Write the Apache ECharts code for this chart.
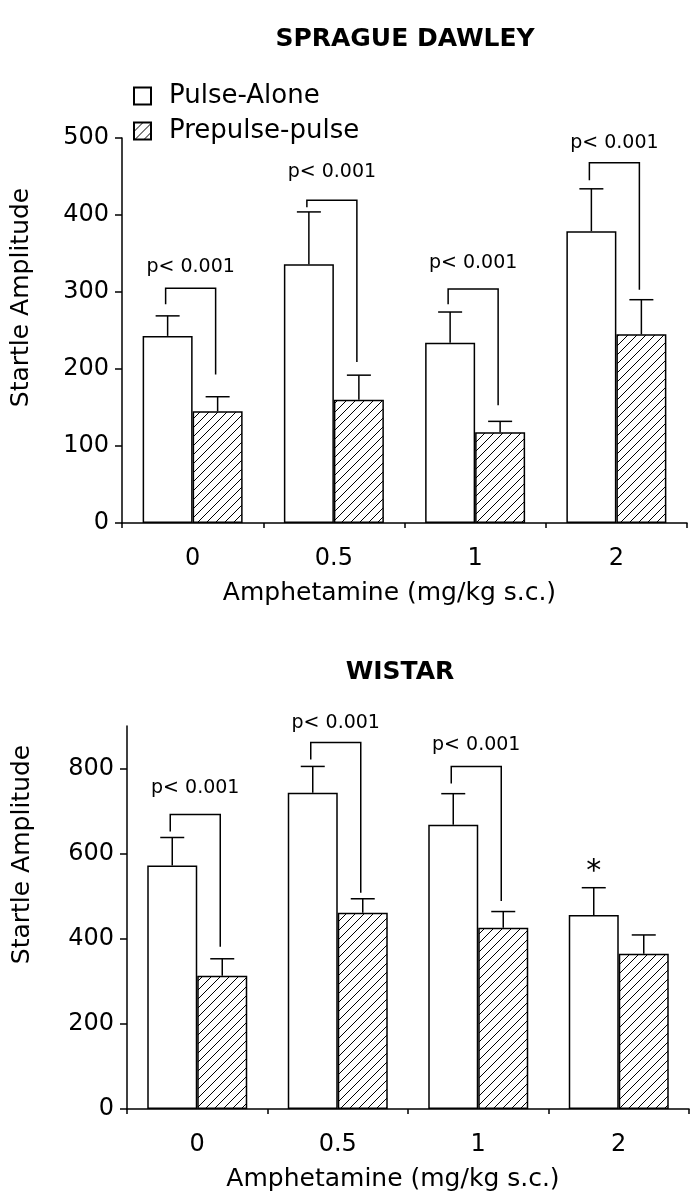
<!DOCTYPE html>
<html>
<head>
<meta charset="utf-8">
<script src="https://cdn.jsdelivr.net/npm/echarts@6/dist/echarts.min.js"></script>
<style>
  html, body { margin: 0; padding: 0; background: #fff; }
  #chart { width: 697px; height: 1199px; }
</style>
</head>
<body>
<div id="chart"></div>
<script>
// doses on the x axis
const doses = ['0', '0.5', '1', '2'];

// Sprague Dawley: means and SEM
const sdPulse = [243, 336, 234, 379];
const sdPulseSem = [26, 68, 40, 55];
const sdPrepulse = [145, 160, 118, 245];
const sdPrepulseSem = [19, 32, 14, 45];

// Wistar: means and SEM
const wiPulse = [572, 743, 668, 456];
const wiPulseSem = [66, 62, 73, 64];
const wiPrepulse = [313, 461, 426, 365];
const wiPrepulseSem = [40, 33, 38, 44];

// significance brackets (left leg end, top, right leg end, label height)
const sdBracketLeft = [284, 410, 284, 445];
const sdBracketTop = [305, 419, 304, 468];
const sdBracketRight = [193, 209, 153, 303];
const sdLabelAt = [332, 456, 338, 494];

const wiBracketLeft = [652, 821, 765];
const wiBracketTop = [692, 861, 805];
const wiBracketRight = [381, 508, 489];
const wiLabelAt = [755, 908, 856];

const wiStarAt = [null, null, null, 557];

const pLabel = 'p< 0.001';
const FONT = 'DejaVu Sans';
const BAR_W = 50;

// hatch pattern for prepulse bars
function makeHatch() {
    const c = document.createElement('canvas');
    c.width = 9;
    c.height = 9;
    const ctx = c.getContext('2d');
    ctx.fillStyle = '#fff';
    ctx.fillRect(0, 0, 9, 9);
    ctx.strokeStyle = '#000';
    ctx.lineWidth = 1;
    ctx.beginPath();
    ctx.moveTo(-1, 10); ctx.lineTo(10, -1);
    ctx.moveTo(-5, 5); ctx.lineTo(5, -5);
    ctx.moveTo(4, 14); ctx.lineTo(14, 4);
    ctx.stroke();
    return c;
}
const hatch = { image: makeHatch(), repeat: 'repeat' };

const myChart = echarts.init(document.getElementById('chart'), null, { renderer: 'canvas' });

function errorBar(offset) {
    return function (params, api) {
        const i = api.value(0);
        const lo = api.coord([i, api.value(1)]);
        const hi = api.coord([i, api.value(2)]);
        const x = lo[0] + offset;
        const st = { stroke: '#000', lineWidth: 1.5 };
        return {
            type: 'group',
            children: [
                { type: 'line', shape: { x1: x, y1: lo[1], x2: x, y2: hi[1] }, style: st },
                { type: 'line', shape: { x1: x - 12, y1: hi[1], x2: x + 12, y2: hi[1] }, style: st }
            ]
        };
    };
}

function bracket(params, api) {
    const i = api.value(0);
    const pl = api.coord([i, api.value(1)]);
    const pt = api.coord([i, api.value(2)]);
    const pr = api.coord([i, api.value(3)]);
    const pc = api.coord([i, api.value(4)]);
    const xl = pl[0] - BAR_W / 2 - 2;
    const xr = pl[0] + BAR_W / 2 - 2;
    return {
        type: 'group',
        children: [
            {
                type: 'polyline',
                shape: { points: [[xl, pl[1]], [xl, pt[1]], [xr, pt[1]], [xr, pr[1]]] },
                style: { stroke: '#000', lineWidth: 1.5, fill: null }
            },
            {
                type: 'text',
                x: pc[0] - 2,
                y: pc[1],
                style: { text: pLabel, fill: '#000', fontFamily: FONT, fontSize: 19, align: 'center', verticalAlign: 'middle' }
            }
        ]
    };
}

function star(params, api) {
    const i = api.value(0);
    const p = api.coord([i, api.value(1)]);
    return {
        type: 'text',
        x: p[0] - BAR_W / 2,
        y: p[1],
        style: { text: '*', fill: '#000', fontFamily: FONT, fontSize: 30, align: 'center', verticalAlign: 'middle' }
    };
}

function errData(mean, sem) {
    return mean.map(function (m, i) { return [i, m, m + sem[i]]; });
}

function bracketData(l, t, r, at) {
    return l.map(function (v, i) { return [i, v, t[i], r[i], at[i]]; });
}

const axisLine = { lineStyle: { color: '#000', width: 1.5 } };
const tickLabel = { color: '#000', fontFamily: FONT, fontSize: 24 };

function xAxisFor(idx) {
    return {
        type: 'category',
        gridIndex: idx,
        data: doses,
        axisLine: axisLine,
        axisTick: { show: true, length: 5, lineStyle: { color: '#000', width: 1.5 } },
        axisLabel: Object.assign({ margin: 24 }, tickLabel),
        name: 'Amphetamine (mg/kg s.c.)',
        nameLocation: 'middle',
        nameGap: 58,
        nameTextStyle: { color: '#000', fontFamily: FONT, fontSize: 25, padding: [0, 30, 0, 0] }
    };
}

function barSeries(name, data, idx, style) {
    return {
        type: 'bar',
        name: name,
        xAxisIndex: idx,
        yAxisIndex: idx,
        data: data,
        barWidth: BAR_W,
        barGap: '0%',
        itemStyle: style,
        emphasis: { disabled: true },
        animation: false
    };
}

const pulseStyle = { color: '#fff', borderColor: '#000', borderWidth: 1.5 };
const prepulseStyle = { color: hatch, borderColor: '#000', borderWidth: 1.5 };

const option = {
    backgroundColor: '#fff',
    animation: false,
    title: [
        { text: 'SPRAGUE DAWLEY', left: 400, top: 22, textAlign: 'center',
          textStyle: { color: '#000', fontFamily: FONT, fontSize: 25, fontWeight: 'bold' } },
        { text: 'WISTAR', left: 395, top: 655, textAlign: 'center',
          textStyle: { color: '#000', fontFamily: FONT, fontSize: 25, fontWeight: 'bold' } }
    ],
    legend: {
        data: ['Pulse-Alone', 'Prepulse-pulse'],
        orient: 'vertical',
        left: 128,
        top: 78,
        itemWidth: 17,
        itemHeight: 17,
        itemGap: 9,
        icon: 'rect',
        selectedMode: false,
        textStyle: { color: '#000', fontFamily: FONT, fontSize: 26, padding: [0, 0, 0, 13] }
    },
    grid: [
        { left: 122, right: 10, top: 138, bottom: 676 },
        { left: 127, right: 8, top: 726, bottom: 90 }
    ],
    xAxis: [xAxisFor(0), xAxisFor(1)],
    yAxis: [
        {
            type: 'value',
            gridIndex: 0,
            min: 0,
            max: 500,
            interval: 100,
            splitLine: { show: false },
            axisLine: Object.assign({ show: true }, axisLine),
            axisTick: { show: true, length: 7, lineStyle: { color: '#000', width: 1.5 } },
            axisLabel: Object.assign({ margin: 13 }, tickLabel),
            name: 'Startle Amplitude',
            nameLocation: 'middle',
            nameGap: 88,
            nameRotate: 90,
            nameTextStyle: { color: '#000', fontFamily: FONT, fontSize: 25, padding: [0, 0, 0, 66] }
        },
        {
            type: 'value',
            gridIndex: 1,
            min: 0,
            max: 900,
            splitLine: { show: false },
            axisLine: Object.assign({ show: true }, axisLine),
            axisTick: { show: true, length: 7, customValues: [0, 200, 400, 600, 800], lineStyle: { color: '#000', width: 1.5 } },
            axisLabel: Object.assign({ margin: 13, customValues: [0, 200, 400, 600, 800] }, tickLabel),
            name: 'Startle Amplitude',
            nameLocation: 'middle',
            nameGap: 92,
            nameRotate: 90,
            nameTextStyle: { color: '#000', fontFamily: FONT, fontSize: 25, padding: [0, 0, 0, 126] }
        }
    ],
    series: [
        barSeries('Pulse-Alone', sdPulse, 0, pulseStyle),
        barSeries('Prepulse-pulse', sdPrepulse, 0, prepulseStyle),
        barSeries('Pulse-Alone', wiPulse, 1, pulseStyle),
        barSeries('Prepulse-pulse', wiPrepulse, 1, prepulseStyle),
        { type: 'custom', name: 'sd-err-pulse', xAxisIndex: 0, yAxisIndex: 0, renderItem: errorBar(-BAR_W / 2),
          data: errData(sdPulse, sdPulseSem), encode: { x: 0, y: [1, 2] }, silent: true },
        { type: 'custom', name: 'sd-err-prepulse', xAxisIndex: 0, yAxisIndex: 0, renderItem: errorBar(BAR_W / 2),
          data: errData(sdPrepulse, sdPrepulseSem), encode: { x: 0, y: [1, 2] }, silent: true },
        { type: 'custom', name: 'wi-err-pulse', xAxisIndex: 1, yAxisIndex: 1, renderItem: errorBar(-BAR_W / 2),
          data: errData(wiPulse, wiPulseSem), encode: { x: 0, y: [1, 2] }, silent: true },
        { type: 'custom', name: 'wi-err-prepulse', xAxisIndex: 1, yAxisIndex: 1, renderItem: errorBar(BAR_W / 2),
          data: errData(wiPrepulse, wiPrepulseSem), encode: { x: 0, y: [1, 2] }, silent: true },
        { type: 'custom', name: 'sd-p', xAxisIndex: 0, yAxisIndex: 0, renderItem: bracket,
          data: bracketData(sdBracketLeft, sdBracketTop, sdBracketRight, sdLabelAt), encode: { x: 0, y: [1, 2, 3] }, silent: true },
        { type: 'custom', name: 'wi-p', xAxisIndex: 1, yAxisIndex: 1, renderItem: bracket,
          data: bracketData(wiBracketLeft, wiBracketTop, wiBracketRight, wiLabelAt), encode: { x: 0, y: [1, 2, 3] }, silent: true },
        { type: 'custom', name: 'wi-star', xAxisIndex: 1, yAxisIndex: 1, renderItem: star,
          data: wiStarAt.map(function (v, i) { return [i, v]; }).filter(function (d) { return d[1] !== null; }),
          encode: { x: 0, y: 1 }, silent: true }
    ]
};

myChart.setOption(option);
</script>
</body>
</html>
